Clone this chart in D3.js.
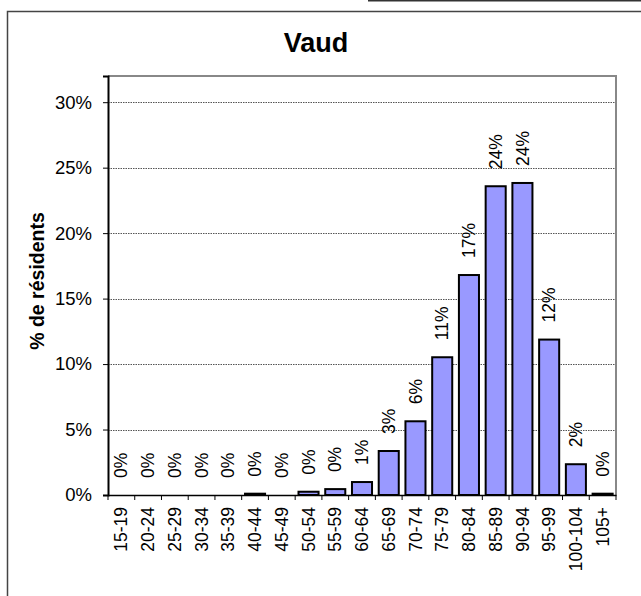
<!DOCTYPE html>
<html>
<head>
<meta charset="utf-8">
<script src="https://cdn.jsdelivr.net/npm/d3@7"></script>
<style>
    body { margin: 0; background: #fff; }
    svg { display: block; font-family: Arial, "Liberation Sans", sans-serif; }
</style>
</head>
<body>
<div id="container"></div>
<script>
const title = "Vaud";
const yTitle = "% de résidents";
const ageGroups = ["15-19", "20-24", "25-29", "30-34", "35-39", "40-44", "45-49", "50-54", "55-59",
    "60-64", "65-69", "70-74", "75-79", "80-84", "85-89", "90-94", "95-99", "100-104", "105+"];
const shares = [0, 0, 0, 0, 0, 0.001, 0, 0.0025, 0.0045,
    0.0099, 0.0336, 0.0563, 0.1052, 0.168, 0.2358, 0.2383, 0.1187, 0.0235, 0.001];
const yTicks = [0, 0.05, 0.10, 0.15, 0.20, 0.25, 0.30];

const w = 641; // canvas width
const h = 596; // canvas height
const plot = { left: 108, right: 616, top: 76, bottom: 495 };

const svg = d3.select("#container")
    .append("svg")
    .attr("width", w)
    .attr("height", h);

// outer frames
svg.append("line")
    .attr("x1", 368).attr("x2", w).attr("y1", 0.5).attr("y2", 0.5)
    .attr("stroke", "#333").attr("stroke-width", 2);
svg.append("path")
    .attr("d", `M7.5,${h} V11.5 H${w}`)
    .attr("fill", "none")
    .attr("stroke", "#444")
    .attr("stroke-width", 1.5);

svg.append("text")
    .attr("x", 316)
    .attr("y", 52)
    .attr("text-anchor", "middle")
    .style("font-size", "27px")
    .style("font-weight", "bold")
    .text(title);

const x = d3.scaleBand()
    .domain(ageGroups)
    .range([plot.left, plot.right])
    .paddingInner(0.25)
    .paddingOuter(0.125);

const y = d3.scaleLinear()
    .domain([0, 0.32])
    .range([plot.bottom, plot.top]);

const pct = d3.format(".0%");

// gridlines
svg.selectAll(".grid")
    .data(yTicks.slice(1))
    .enter().append("line")
    .attr("class", "grid")
    .attr("x1", plot.left)
    .attr("x2", plot.right)
    .attr("y1", (d) => Math.round(y(d)) + 0.5)
    .attr("y2", (d) => Math.round(y(d)) + 0.5)
    .attr("stroke", "#555")
    .attr("stroke-dasharray", "1.5,1");

// plot border (top and right)
svg.append("path")
    .attr("d", `M${plot.left},${plot.top} H${plot.right} V${plot.bottom}`)
    .attr("fill", "none")
    .attr("stroke", "#888")
    .attr("stroke-width", 2);

// bars
svg.selectAll(".bar")
    .data(ageGroups.map((g, i) => ({ group: g, value: shares[i] })).filter((d) => d.value > 0))
    .enter().append("rect")
    .attr("class", "bar")
    .attr("x", (d) => x(d.group))
    .attr("y", (d) => y(d.value))
    .attr("width", x.bandwidth())
    .attr("height", (d) => y(0) - y(d.value))
    .attr("fill", "#9999FF")
    .attr("stroke", "#000")
    .attr("stroke-width", 2);

// data labels
svg.selectAll(".label")
    .data(ageGroups.map((g, i) => ({ group: g, value: shares[i] })))
    .enter().append("text")
    .attr("class", "label")
    .attr("transform", (d) => `translate(${x(d.group) + x.bandwidth() / 2},${y(d.value) - 17}) rotate(-90)`)
    .attr("dy", "0.35em")
    .style("font-size", "17.5px")
    .text((d) => pct(d.value));

// y axis
const yAxis = svg.append("g")
    .attr("transform", `translate(${plot.left},0)`)
    .call(d3.axisLeft(y).tickValues(yTicks).tickFormat(pct).tickSize(5).tickPadding(11));
yAxis.select(".domain").attr("stroke", "#000").attr("stroke-width", 2);
yAxis.selectAll("text").style("font-size", "18.5px").attr("fill", "#000");

// x axis
const xAxis = svg.append("g")
    .attr("transform", `translate(0,${plot.bottom})`)
    .call(d3.axisBottom(x).tickSize(0).tickPadding(0));
xAxis.select(".domain").attr("stroke", "#000").attr("stroke-width", 1.5);
xAxis.selectAll(".tick text")
    .attr("transform", "translate(0,12) rotate(-90)")
    .attr("text-anchor", "end")
    .attr("dy", "0.35em")
    .attr("x", 0)
    .attr("y", 0)
    .style("font-size", "17.5px")
    .attr("fill", "#000");

// ticks between categories
svg.selectAll(".xtick")
    .data(d3.range(ageGroups.length + 1))
    .enter().append("line")
    .attr("class", "xtick")
    .attr("x1", (i) => plot.left + i * x.step())
    .attr("x2", (i) => plot.left + i * x.step())
    .attr("y1", plot.bottom)
    .attr("y2", plot.bottom + 5)
    .attr("stroke", "#000");

svg.append("text")
    .attr("transform", `translate(37,281) rotate(-90)`)
    .attr("text-anchor", "middle")
    .attr("dy", "0.35em")
    .style("font-size", "19.5px")
    .style("font-weight", "bold")
    .text(yTitle);
</script>
</body>
</html>
